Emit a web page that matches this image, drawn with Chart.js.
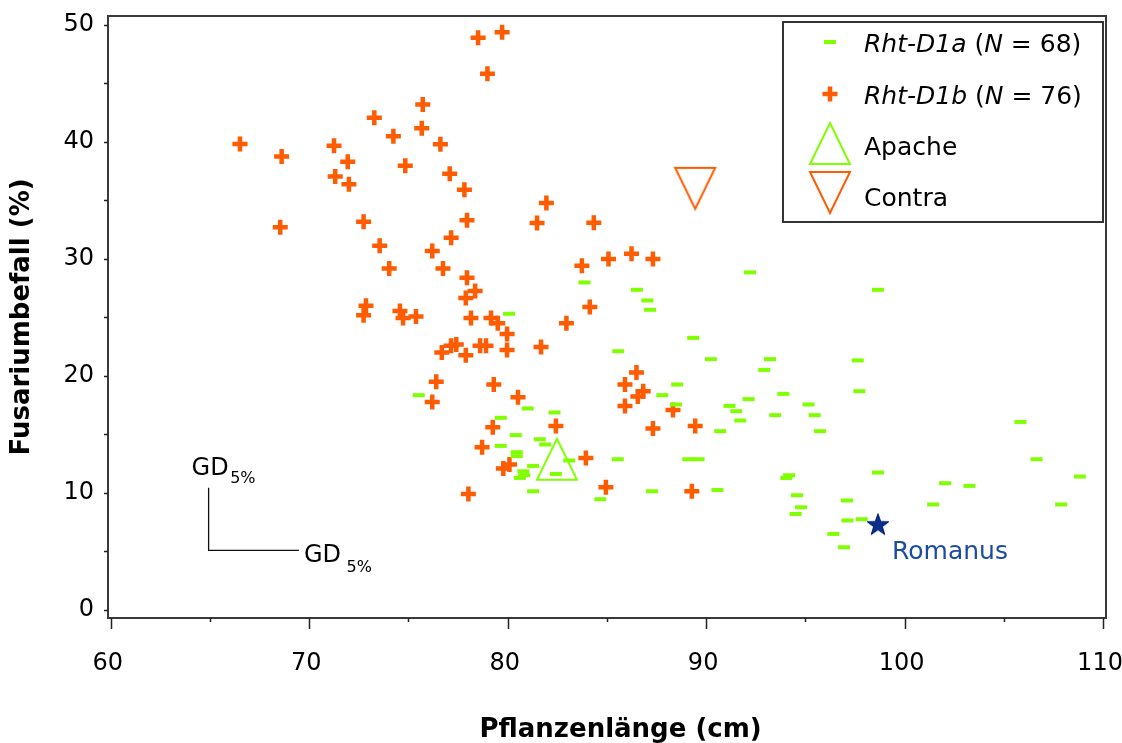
<!DOCTYPE html>
<html>
<head>
<meta charset="utf-8">
<script src="https://cdn.jsdelivr.net/npm/chart.js@4.4.0/dist/chart.umd.min.js"></script>
<style>
  html, body { margin: 0; padding: 0; background: #fff; }
  #wrap { width: 1122px; height: 743px; }
</style>
</head>
<body>
<div id="wrap"><canvas id="scatterChart"></canvas></div>
<script>
// Rht-D1a lines (green dashes): plant height (cm) / Fusarium infection (%)
const d1aLength = [83.87, 86.51, 87.04, 87.18, 80.07, 89.35, 85.57, 75.52, 88.54, 87.79,
  88.48, 81.01, 82.36, 79.65, 80.41, 81.62, 81.89, 79.65, 80.46, 80.46,
  83.10, 81.28, 80.79, 80.83, 80.61, 82.43, 81.28, 85.55, 89.10, 89.62,
  87.27, 84.67, 92.21, 98.66, 90.24, 93.22, 92.93, 97.64, 97.72, 93.89,
  92.14, 91.18, 91.52, 91.72, 93.48, 95.16, 95.47, 95.74, 90.71, 94.18,
  94.04, 90.57, 94.58, 94.78, 94.51, 97.10, 98.66, 97.12, 97.84, 105.84,
  106.65, 108.83, 107.89, 102.04, 103.27, 101.44, 96.41, 96.95];
const d1aFusarium = [27.98, 27.35, 26.44, 25.64, 25.30, 23.24, 22.10, 18.34, 19.25, 18.34,
  17.54, 17.20, 16.86, 16.40, 14.92, 14.57, 14.12, 14.00, 13.46, 13.12,
  12.75, 12.29, 11.83, 11.49, 11.26, 11.60, 10.12, 12.86, 12.86, 12.86,
  10.12, 9.44, 28.84, 27.35, 21.42, 21.42, 20.50, 21.31, 18.68, 18.45,
  18.00, 17.42, 16.97, 16.17, 16.63, 17.54, 16.63, 15.26, 15.26, 11.49,
  11.26, 10.23, 9.78, 8.75, 8.18, 9.33, 11.72, 7.62, 7.73, 16.05,
  12.86, 11.38, 8.99, 10.81, 10.58, 8.99, 6.47, 5.33];

// Rht-D1b lines (orange crosses)
const d1bLength = [66.51, 68.61, 68.54, 71.25, 71.94, 71.31, 72.00, 73.28, 74.24, 74.84,
  75.67, 75.72, 76.61, 77.08, 77.82, 78.51, 79.72, 78.98, 81.95, 72.74,
  73.55, 74.03, 76.20, 76.74, 77.15, 77.95, 81.48, 77.95, 78.36, 77.89,
  72.86, 72.74, 74.57, 74.73, 75.38, 78.15, 79.16, 79.50, 79.97, 79.97,
  78.61, 78.91, 81.68, 76.68, 77.15, 77.41, 77.89, 76.40, 79.30, 80.52,
  76.20, 79.25, 82.43, 78.71, 80.09, 79.78, 83.94, 78.02, 84.95, 86.49,
  85.91, 86.83, 86.56, 85.91, 88.33, 87.32, 89.45, 89.28, 82.96, 84.14,
  83.74, 84.34, 85.08, 86.24, 87.32];
const d1bFusarium = [39.82, 38.76, 32.71, 39.67, 38.30, 37.05, 36.37, 42.07, 40.48, 37.96,
  41.16, 43.21, 39.79, 37.28, 35.91, 48.91, 49.38, 45.83, 34.77, 33.17,
  31.11, 29.18, 30.66, 29.18, 31.80, 33.29, 33.06, 28.38, 27.24, 26.66,
  25.98, 25.18, 25.53, 24.95, 25.07, 24.95, 24.95, 24.50, 23.58, 22.21,
  22.56, 22.56, 22.45, 21.99, 22.56, 22.68, 21.76, 19.48, 19.25, 18.17,
  17.76, 15.60, 15.71, 13.89, 12.41, 12.07, 12.97, 9.89, 10.47, 20.28,
  19.25, 18.68, 18.23, 17.42, 17.08, 15.49, 15.71, 10.12, 24.50, 25.87,
  29.40, 33.08, 29.98, 30.43, 29.98];

// check varieties [length, fusarium]
const apache = [82.48, 12.86];
const contra = [89.45, 36.03];
const romanus = [98.66, 7.30];

// LSD (GD 5%) bars: corner point, then size of each arm
const gdCorner = [64.93, 5.07];
const gdFusarium = 5.34;
const gdLength = 4.55;

// axes
const xMin = 59.86, xMax = 110.15;
const yMin = -0.72, yMax = 50.77;
const xTickValues = [60, 70, 80, 90, 100, 110];
const xMinorValues = [65, 75, 85, 95, 105];
const yTickValues = [0, 10, 20, 30, 40, 50];
const yMarkValues = [0, 5, 10, 15, 20, 25, 30, 35, 40, 45, 50];

const legendLabels = [
  [['Rht-D1a', true], [' (', false], ['N', true], [' = 68)', false]],
  [['Rht-D1b', true], [' (', false], ['N', true], [' = 76)', false]],
  [['Apache', false]],
  [['Contra', false]]
];

const GREEN = '#80ff00';
const ORANGE = '#ff5b00';
const NAVY = '#0a2e8e';
const FONT = "'DejaVu Sans', Verdana, sans-serif";

function zip(xs, ys) {
  return xs.map((v, i) => ({ x: v, y: ys[i] }));
}

// hollow triangles used for the check varieties
function makeTriangle(color, pointDown) {
  const c = document.createElement('canvas');
  c.width = 44; c.height = 45;
  const g = c.getContext('2d');
  g.strokeStyle = color;
  g.lineWidth = 2;
  g.beginPath();
  if (pointDown) {
    g.moveTo(2, 2); g.lineTo(42, 2); g.lineTo(22, 43);
  } else {
    g.moveTo(22, 2); g.lineTo(42, 43); g.lineTo(2, 43);
  }
  g.closePath();
  g.stroke();
  return c;
}

function makeStar() {
  const c = document.createElement('canvas');
  c.width = 26; c.height = 26;
  const g = c.getContext('2d');
  g.beginPath();
  for (let i = 0; i < 10; i++) {
    const r = i % 2 === 0 ? 11.5 : 4.6;
    const a = -Math.PI / 2 + i * Math.PI / 5;
    g.lineTo(13 + r * Math.cos(a), 14 + r * Math.sin(a));
  }
  g.closePath();
  g.fillStyle = NAVY;
  g.fill();
  g.strokeStyle = '#001a66';
  g.lineWidth = 1;
  g.stroke();
  return c;
}

const apacheIcon = makeTriangle(GREEN, false);
const contraIcon = makeTriangle(ORANGE, true);
const starIcon = makeStar();

// frame, tick marks, legend box and annotations
const overlayPlugin = {
  id: 'overlay',
  afterDraw(chart) {
    const { ctx, chartArea: a, scales } = chart;
    const xs = scales.x, ys = scales.y;
    ctx.save();

    // plot frame
    ctx.strokeStyle = '#3a3a3a';
    ctx.lineWidth = 2;
    ctx.strokeRect(a.left, a.top, a.right - a.left, a.bottom - a.top);

    // tick marks
    ctx.strokeStyle = '#222';
    ctx.lineWidth = 1.5;
    ctx.beginPath();
    xTickValues.forEach(v => {
      const px = Math.round(xs.getPixelForValue(v)) + 0.5;
      ctx.moveTo(px, a.bottom); ctx.lineTo(px, a.bottom + 11);
    });
    xMinorValues.forEach(v => {
      const px = Math.round(xs.getPixelForValue(v)) + 0.5;
      ctx.moveTo(px, a.bottom); ctx.lineTo(px, a.bottom + 4);
    });
    yMarkValues.forEach(v => {
      const py = Math.round(ys.getPixelForValue(v)) + 0.5;
      ctx.moveTo(a.left - 4, py); ctx.lineTo(a.left, py);
    });
    ctx.stroke();

    // GD 5% bars
    const cx = xs.getPixelForValue(gdCorner[0]);
    const cy = ys.getPixelForValue(gdCorner[1]);
    const topY = ys.getPixelForValue(gdCorner[1] + gdFusarium);
    const endX = xs.getPixelForValue(gdCorner[0] + gdLength);
    ctx.strokeStyle = '#111';
    ctx.lineWidth = 1.3;
    ctx.beginPath();
    ctx.moveTo(cx, topY); ctx.lineTo(cx, cy); ctx.lineTo(endX, cy);
    ctx.stroke();

    ctx.fillStyle = '#000';
    ctx.textBaseline = 'alphabetic';
    ctx.textAlign = 'left';
    ctx.font = '24px ' + FONT;
    ctx.fillText('GD', cx - 17, topY - 12.7);
    let w = ctx.measureText('GD').width;
    ctx.font = '16px ' + FONT;
    ctx.fillText('5%', cx - 17 + w + 1.5, topY - 4.7);
    ctx.font = '24px ' + FONT;
    ctx.fillText('GD', endX + 5, cy + 11.7);
    w = ctx.measureText('GD').width;
    ctx.font = '16px ' + FONT;
    ctx.fillText('5%', endX + 5 + w + 5.5, cy + 21.7);

    // Romanus label
    const rx = xs.getPixelForValue(romanus[0]);
    const ry = ys.getPixelForValue(romanus[1]);
    ctx.fillStyle = '#1c4ca0';
    ctx.font = '25px ' + FONT;
    ctx.textBaseline = 'middle';
    ctx.fillText('Romanus', rx + 14, ry + 28);

    // legend box
    const lx = a.right - 323, ly = a.top + 6;
    ctx.fillStyle = '#fff';
    ctx.fillRect(lx, ly, 320, 200);
    ctx.strokeStyle = '#333';
    ctx.lineWidth = 2;
    ctx.strokeRect(lx, ly, 320, 200);

    const markX = lx + 47;
    const rowY = [ly + 21, ly + 73, ly + 124, ly + 175];
    // green dash
    ctx.strokeStyle = GREEN; ctx.lineWidth = 4;
    ctx.beginPath(); ctx.moveTo(markX - 6, rowY[0] - 1); ctx.lineTo(markX + 6, rowY[0] - 1); ctx.stroke();
    // orange cross
    ctx.strokeStyle = ORANGE; ctx.lineWidth = 4.5;
    ctx.beginPath();
    ctx.moveTo(markX - 7.5, rowY[1] - 1); ctx.lineTo(markX + 7.5, rowY[1] - 1);
    ctx.moveTo(markX, rowY[1] - 8.5); ctx.lineTo(markX, rowY[1] + 6.5);
    ctx.stroke();
    ctx.drawImage(apacheIcon, markX - 22, rowY[2] - 25);
    ctx.drawImage(contraIcon, markX - 22, rowY[3] - 27);

    ctx.fillStyle = '#000';
    ctx.textBaseline = 'middle';
    legendLabels.forEach((parts, i) => {
      let tx = lx + 81;
      parts.forEach(([txt, italic]) => {
        ctx.font = (italic ? 'italic ' : '') + '25px ' + FONT;
        ctx.fillText(txt, tx, rowY[i] + 2);
        tx += ctx.measureText(txt).width;
      });
    });

    ctx.restore();
  }
};

const ctx = document.getElementById('scatterChart');
new Chart(ctx, {
  type: 'scatter',
  data: {
    datasets: [
      {
        label: 'Rht-D1a',
        data: zip(d1aLength, d1aFusarium),
        pointStyle: 'line',
        radius: 6,
        borderWidth: 4,
        borderColor: GREEN,
        backgroundColor: GREEN
      },
      {
        label: 'Rht-D1b',
        data: zip(d1bLength, d1bFusarium),
        pointStyle: 'cross',
        radius: 7.5,
        borderWidth: 4.5,
        borderColor: ORANGE,
        backgroundColor: ORANGE
      },
      {
        label: 'Apache',
        data: [{ x: apache[0], y: apache[1] }],
        pointStyle: apacheIcon,
        radius: 20
      },
      {
        label: 'Contra',
        data: [{ x: contra[0], y: contra[1] }],
        pointStyle: contraIcon,
        radius: 20
      },
      {
        label: 'Romanus',
        data: [{ x: romanus[0], y: romanus[1] }],
        pointStyle: starIcon,
        radius: 12
      }
    ]
  },
  options: {
    responsive: true,
    maintainAspectRatio: false,
    animation: false,
    events: [],
    layout: { autoPadding: false, padding: { top: 16, right: 16, left: 0, bottom: 0 } },
    plugins: {
      legend: { display: false },
      tooltip: { enabled: false }
    },
    scales: {
      x: {
        type: 'linear',
        min: xMin,
        max: xMax,
        afterBuildTicks: s => { s.ticks = xTickValues.map(v => ({ value: v })); },
        afterFit: s => {
          s.height = 125;
          s.paddingLeft = 0; s.paddingRight = 0;
        },
        grid: { display: false, drawTicks: true, tickLength: 31 },
        border: { display: false },
        ticks: {
          autoSkip: false,
          maxRotation: 0,
          padding: 0,
          labelOffset: -3,
          color: '#000',
          font: { family: FONT, size: 24 }
        },
        title: {
          display: true,
          // leading spaces nudge the title right like the original
          text: '   Pflanzenlänge (cm)',
          color: '#000',
          padding: 0,
          font: { family: FONT, size: 26, weight: 'bold', lineHeight: 1 }
        }
      },
      y: {
        type: 'linear',
        min: yMin,
        max: yMax,
        afterBuildTicks: s => { s.ticks = yTickValues.map(v => ({ value: v })); },
        afterFit: s => {
          s.width = 108;
          s.paddingTop = 0; s.paddingBottom = 0;
        },
        grid: { display: false, drawTicks: false },
        border: { display: false },
        ticks: {
          padding: 14,
          color: '#000',
          font: { family: FONT, size: 24 }
        },
        title: {
          display: true,
          text: 'Fusariumbefall (%)',
          color: '#000',
          padding: { top: 9, bottom: 0 },
          font: { family: FONT, size: 26, weight: 'bold', lineHeight: 1 }
        }
      }
    }
  },
  plugins: [overlayPlugin]
});
</script>
</body>
</html>
